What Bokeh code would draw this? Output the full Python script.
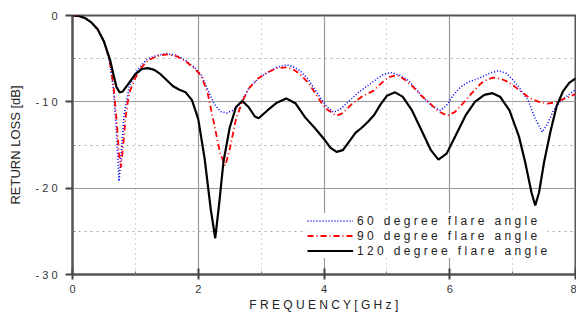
from bokeh.plotting import figure
from bokeh.models import Legend, LegendItem, FixedTicker
from bokeh.embed import file_html
from bokeh.resources import INLINE

# ---- data ----
freq_60 = [0, 0.1, 0.2, 0.3, 0.4, 0.5, 0.55, 0.6, 0.65, 0.7, 0.74, 0.78, 0.82, 0.9, 1.0, 1.1, 1.2, 1.35,
           1.5, 1.65, 1.8, 1.95, 2.05, 2.15, 2.25, 2.35, 2.45, 2.55, 2.67, 2.8, 2.95, 3.1, 3.25, 3.4, 3.5,
           3.62, 3.75, 3.85, 3.95, 4.05, 4.15, 4.25, 4.4, 4.55, 4.7, 4.85, 4.95, 5.06, 5.2, 5.34, 5.45,
           5.58, 5.72, 5.85, 5.95, 6.05, 6.17, 6.3, 6.49, 6.63, 6.77, 6.9, 7.01, 7.12, 7.25, 7.35, 7.47,
           7.56, 7.65, 7.75, 7.87, 8.0]
rl_60 = [0, -0.05, -0.3, -0.8, -1.6, -3.0, -4.2, -5.8, -8.5, -13.5, -19.2, -15.5, -11.5, -8.3, -6.7, -5.7,
         -5.0, -4.6, -4.4, -4.6, -5.2, -6.1, -6.9, -8.6, -10.2, -11.1, -11.3, -11.0, -10.2, -8.5, -7.3, -6.6,
         -6.0, -5.7, -5.9, -6.4, -7.4, -8.5, -9.6, -10.6, -11.2, -10.9, -9.9, -8.9, -8.1, -7.3, -6.8, -6.6,
         -6.9, -7.5, -8.4, -9.5, -10.5, -11.0, -10.4, -9.3, -8.3, -7.7, -7.2, -6.7, -6.4, -6.7, -7.5, -8.5,
         -9.9, -11.8, -13.5, -12.5, -11.0, -10.0, -9.3, -8.6]

freq_90 = [0, 0.1, 0.2, 0.3, 0.4, 0.5, 0.55, 0.6, 0.65, 0.7, 0.74, 0.77, 0.8, 0.85, 0.9, 1.0, 1.1, 1.2,
           1.35, 1.5, 1.65, 1.8, 1.95, 2.05, 2.15, 2.25, 2.35, 2.43, 2.5, 2.6, 2.7, 2.8, 2.95, 3.1, 3.25,
           3.4, 3.5, 3.62, 3.75, 3.85, 3.95, 4.05, 4.2, 4.3, 4.45, 4.6, 4.79, 4.95, 5.05, 5.16, 5.3, 5.42,
           5.55, 5.69, 5.82, 5.96, 6.08, 6.22, 6.35, 6.49, 6.6, 6.69, 6.8, 6.9, 7.01, 7.15, 7.28, 7.42,
           7.55, 7.65, 7.76, 7.88, 8.0]
rl_90 = [0, -0.05, -0.3, -0.8, -1.6, -3.0, -4.2, -5.7, -8.0, -12.0, -16.0, -17.6, -15.5, -11.5, -9.0, -7.2,
         -6.0, -5.2, -4.7, -4.5, -4.7, -5.3, -6.2, -7.0, -9.0, -12.5, -16.0, -17.4, -15.5, -12.0, -10.0,
         -8.5, -7.3, -6.6, -6.1, -6.0, -6.2, -6.8, -7.8, -8.9, -10.0, -10.9, -11.6, -11.3, -10.2, -9.4,
         -8.7, -7.6, -7.1, -6.9, -7.5, -8.3, -9.3, -10.2, -11.1, -11.6, -11.2, -10.1, -9.0, -7.9, -7.4,
         -7.2, -7.3, -7.6, -8.1, -8.9, -9.6, -10.0, -10.2, -10.1, -9.8, -9.5, -9.1]

freq_120 = [0, 0.1, 0.2, 0.3, 0.4, 0.5, 0.6, 0.65, 0.7, 0.75, 0.8, 0.9, 1.0, 1.1, 1.2, 1.3, 1.4, 1.5,
            1.6, 1.7, 1.8, 1.9, 2.0, 2.1, 2.2, 2.27, 2.33, 2.4, 2.5, 2.6, 2.7, 2.8, 2.9, 2.96, 3.1, 3.25,
            3.4, 3.55, 3.7, 3.85, 4.0, 4.1, 4.2, 4.3, 4.4, 4.5, 4.6, 4.7, 4.8, 4.9, 5.0, 5.13, 5.25, 5.4,
            5.55, 5.7, 5.82, 5.95, 6.1, 6.25, 6.4, 6.55, 6.68, 6.8, 6.95, 7.1, 7.2, 7.3, 7.36, 7.42, 7.5,
            7.6, 7.7, 7.8, 7.9, 8.0]
rl_120 = [0, -0.05, -0.3, -0.8, -1.6, -3.0, -5.2, -6.8, -8.3, -8.9, -8.8, -7.8, -6.8, -6.2, -6.1, -6.3,
          -6.8, -7.5, -8.2, -8.6, -8.9, -9.8, -12.0, -16.5, -22.5, -25.8, -22.0, -17.0, -13.0, -10.6, -9.9,
          -10.6, -11.7, -11.9, -11.0, -10.1, -9.6, -10.2, -11.8, -13.0, -14.3, -15.3, -15.8, -15.6, -14.6,
          -13.6, -13.0, -12.3, -11.5, -10.3, -9.3, -8.9, -9.4, -11.0, -13.3, -15.6, -16.7, -16.0, -13.8,
          -11.6, -10.0, -9.2, -9.0, -9.4, -11.0, -14.0, -17.0, -20.5, -22.0, -20.5, -17.0, -13.5, -10.5,
          -8.8, -7.8, -7.3]

series_names = ["60 degree flare angle", "90 degree flare angle", "120 degree flare angle"]
x_ticks = [0, 2, 4, 6, 8]
y_ticks = [-30, -20, -10, 0]
y_tick_labels = ["-30", "-20", "-10", "0"]
x_label = "FREQUENCY[GHz]"
y_label = "RETURN LOSS [dB]"


def spaced(s):
    return " ".join(s)


FONT = "Liberation Sans"

p = figure(width=576, height=320, x_range=(0, 8), y_range=(-30, 0),
           output_backend="svg", toolbar_location=None,
           min_border_left=72, min_border_right=1, min_border_top=15, min_border_bottom=46)

p.outline_line_color = "#555555"
p.outline_line_width = 2

for ax in (p.xaxis, p.yaxis):
    ax.axis_line_color = "#555555"
    ax.axis_line_width = 2
    ax.major_tick_line_color = "#444444"
    ax.major_tick_line_width = 2
    ax.minor_tick_line_color = "#777777"
    ax.major_label_text_font = FONT
    ax.major_label_text_font_size = "11px"
    ax.major_label_text_color = "#333333"
    ax.axis_label_text_font = FONT
    ax.axis_label_text_font_style = "normal"
    ax.axis_label_text_color = "#222222"

p.xaxis.ticker = FixedTicker(ticks=x_ticks, minor_ticks=[1, 3, 5, 7])
p.yaxis.ticker = FixedTicker(ticks=y_ticks, minor_ticks=[-25, -15, -5])
p.yaxis.major_label_overrides = {t: spaced(l) for t, l in zip(y_ticks, y_tick_labels)}
p.xaxis.major_tick_in = 6
p.xaxis.major_tick_out = 5
p.xaxis.minor_tick_in = 3
p.xaxis.minor_tick_out = 0
p.yaxis.major_tick_in = 0
p.yaxis.major_tick_out = 7
p.yaxis.minor_tick_in = 3
p.yaxis.minor_tick_out = 0
p.xaxis.major_label_standoff = 5
p.yaxis.major_label_standoff = 8
p.xaxis.axis_label = spaced(x_label)
p.yaxis.axis_label = y_label
p.xaxis.axis_label_text_font_size = "12px"
p.yaxis.axis_label_text_font_size = "13px"
p.xaxis.axis_label_standoff = 2
p.yaxis.axis_label_standoff = 9

p.xgrid.grid_line_color = "#999999"
p.ygrid.grid_line_color = "#999999"
p.xgrid.grid_line_width = 1.2
p.ygrid.grid_line_width = 1.2
p.xgrid.minor_grid_line_color = "#aaaaaa"
p.ygrid.minor_grid_line_color = "#aaaaaa"
p.xgrid.minor_grid_line_dash = "1 4"
p.ygrid.minor_grid_line_dash = "2 4"

r60 = p.line(freq_60, rl_60, line_color="#0000ff", line_width=1.6, line_dash="1 2")
r90 = p.line(freq_90, rl_90, line_color="#ff0000", line_width=1.8, line_dash="6 3 1 3")
r120 = p.line(freq_120, rl_120, line_color="#000000", line_width=2.2)

legend = Legend(items=[LegendItem(label=spaced(series_names[0]), renderers=[r60]),
                       LegendItem(label=spaced(series_names[1]), renderers=[r90]),
                       LegendItem(label=spaced(series_names[2]), renderers=[r120])],
                location=(235, 16), glyph_width=46, glyph_height=15, label_height=15,
                spacing=0, padding=5, margin=0, label_standoff=4,
                label_text_font=FONT, label_text_font_size="12px", label_text_color="#222222",
                border_line_color=None, background_fill_color="white", background_fill_alpha=1)
p.add_layout(legend, "center")

open("out.html", "w").write(file_html(p, INLINE))
